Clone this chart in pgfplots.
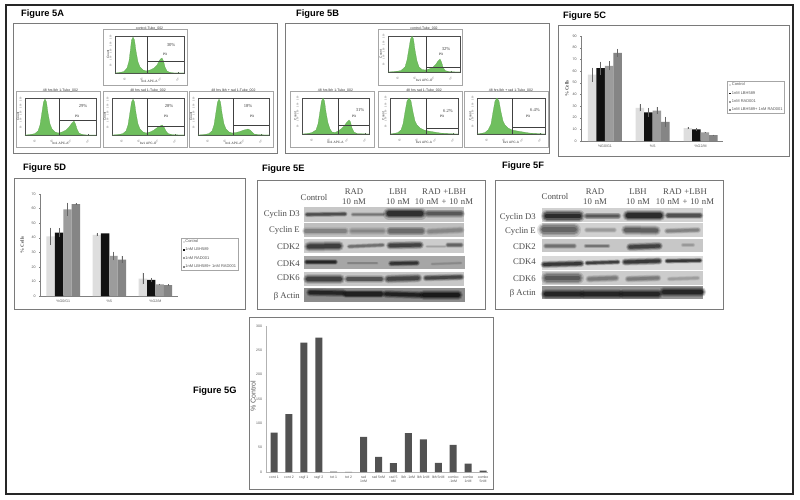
\documentclass[border=0pt]{standalone}
\usepackage{fontspec}
\setmainfont{Liberation Sans}
\newfontfamily\tms{Liberation Serif}
\usepackage{pgfplots}
\pgfplotsset{compat=1.18}
\definecolor{flowgreen}{HTML}{6FBF5E}
\definecolor{framegray}{HTML}{7A7A7A}
\definecolor{barA}{HTML}{DEDEDE}
\definecolor{barB}{HTML}{111111}
\definecolor{barC}{HTML}{9C9C9C}
\definecolor{barD}{HTML}{858585}
\definecolor{txtgray}{HTML}{555555}
\newcommand\myfs[1]{\fontsize{#1}{#1}\selectfont}
\newcommand\myT[4]{\node[inner sep=0pt,align=center,#3] at (#1pt,-#2pt) {#4};}
\newcommand\myF[3]{\node[anchor=west,inner sep=0pt,font=\myfs{9.3}\bfseries] at (#1pt,-#2pt) {Figure #3};}
\newcommand\myPnl[4]{\draw[framegray,line width=0.9pt] (#1pt,-#2pt) rectangle (#3pt,-#4pt);}
\newcommand\mySub[2]{\draw[gray!70,line width=0.5pt] (#1pt,-#2pt) rectangle ++(84pt,-56pt);}
% flow histogram: x, y bottom, w, h, title, gate x, gate h, curve
\newcommand\myFlow[8]{%
\begin{axis}[at={(#1pt,-#2pt)},anchor=south west,scale only axis,width=#3pt,height=#4pt,
 xmin=0,xmax=#3,ymin=0,ymax=#4,clip=false,
 axis line style={line width=0.3pt,black!70},
 tick style={line width=0.25pt,black!70},major tick length=1.2pt,
 xtick={10,27,45,63},xticklabels={10²,10³,10⁴,10⁵},
 ytick={7,14,21,28,35},yticklabels={50,100,150,200,250},
 xtick pos=bottom,ytick pos=left,
 tick label style={font=\myfs{2.2},black!70},
 yticklabel style={rotate=90,xshift=0.8pt},xticklabel style={rotate=45,yshift=0.6pt},
 title={#5},title style={at={(0.5,1.05)},anchor=center,font=\myfs{3.5},black!80},
 xlabel={bv1 APC-A},xlabel style={at={(0.5,-0.22)},anchor=center,font=\myfs{3.2},black!80},
 ylabel={Count},ylabel style={at={(-0.1,0.5)},anchor=center,rotate=0,font=\myfs{3.2},black!80}]
\addplot[draw=flowgreen!85!black,line width=0.2pt,fill=flowgreen] coordinates {#8} --cycle;
\addplot[black!75,line width=0.35pt] coordinates {(#6,0)(#6,#4)};
\addplot[black!75,line width=0.35pt] coordinates {(#6,#7)(#3,#7)};
\end{axis}}
% blot helpers (image pixel coordinates)
\newcommand\mystrip[5]{\addplot[draw=none,fill=#5] coordinates {(#1,#3)(#2,#3)(#2,#4)(#1,#4)} --cycle;}
\newcommand\myband[6]{%
\addplot[line cap=round,line width=2.0*#5 pt,black!#6,opacity=0.18] coordinates {(#1,#3)(#2,#4)};
\addplot[line cap=round,line width=1.6*#5 pt,black!#6,opacity=0.28] coordinates {(#1,#3)(#2,#4)};
\addplot[line cap=round,line width=1.2*#5 pt,black!#6,opacity=0.4] coordinates {(#1,#3)(#2,#4)};
\addplot[line cap=round,line width=0.8*#5 pt,black!#6,opacity=0.7] coordinates {(#1,#3)(#2,#4)};}
\pgfplotsset{barstyle/.style={scale only axis,anchor=south west,
 ybar=0pt,xtick=data,xticklabels={\%G0/G1,\%S,\%G2/M},
 axis lines=left,axis line style={-,line width=0.4pt,gray},
 tick style={line width=0.3pt,gray},major tick length=1.5pt,
 tick label style={font=\myfs{3.6},txtgray},
 /pgf/number format/assume math mode=true,
 ylabel={\% Cells},
 legend cell align=left,
 legend image code/.code={\fill[##1,draw=none] (0pt,-0.9pt) rectangle (2.2pt,0.9pt);},
 },
 barerr/.style={error bars/.cd,y dir=both,y explicit,error mark=none,
 error bar style={line width=0.45pt,black!60}}}
\begin{document}
\begin{tikzpicture}
\path[use as bounding box,fill=white] (0pt,0pt) rectangle (800pt,-500pt);
\draw[black!85,line width=1.1pt] (6pt,-5pt) rectangle (793pt,-494pt);
\myPnl{13}{23}{277}{153}
\myPnl{285}{23}{549}{153}
\myPnl{558}{25}{789}{156}
\myPnl{14}{178}{245}{309}
\myPnl{257}{180}{485}{309}
\myPnl{495}{180}{723}{309}
\myPnl{249}{317}{493}{489}
\myF{21}{14}{5A}
\myF{296}{14}{5B}
\myF{563}{16}{5C}
\myF{23}{168}{5D}
\myF{262}{169}{5E}
\myF{502}{166}{5F}
\myF{193}{391}{5G}
% Panel A
\mySub{103}{29}\mySub{16}{91}\mySub{103}{91}\mySub{189}{91}
\myFlow{115}{73}{69}{37}{control-Tube\_002}{32}{12}{(0,0)(5,.5)(9,1.5)(12,5)(14,12)(15.5,24)(16.5,33)(18,36)(19.5,33)(21,22)(23,11)(25,6)(28,3)(31,2)(35,3)(39,5)(42,8)(44,12)(45.5,14)(47,15)(48.5,12)(50,6)(52,2)(55,.5)(60,0)(69,0)}
\myFlow{25}{135}{71}{37}{48 hrs lbh 1-Tube\_002}{34}{15}{(0,0)(6,.5)(10,1.5)(13,4)(15,10)(17,23)(18.5,33)(20,36)(21.5,33)(23,22)(25,11)(27,6)(30,3)(33,2)(37,3)(41,5)(44,8)(47,12)(49,14)(50.5,11)(52,6)(54,2)(57,.5)(62,0)(71,0)}
\myFlow{112}{135}{72}{37}{48 hrs rad 1-Tube\_002}{35}{9}{(0,0)(7,.5)(11,1.5)(14,4)(16,10)(18,23)(19.5,33)(21,36)(22.5,33)(24,22)(26,11)(28,6)(31,3)(34,2)(38,3)(42,5)(46,8)(50,10)(52,8)(54,4)(56,1.5)(60,.3)(72,0)}
\myFlow{198}{135}{71}{37}{48 hrs lbh + rad 1-Tube\_002}{35}{10}{(0,0)(7,.5)(11,1.5)(14,4)(16,10)(18,23)(19.5,33)(21,36)(22.5,33)(24,22)(26,11)(28,6)(31,3)(34,2)(38,2.5)(42,3.5)(46,5)(50,6)(52,5)(54,3)(56,1)(60,.3)(71,0)}
% Panel B
\mySub{378}{29}\mySub{290}{91}\mySub{378}{91}\mySub{464}{91}
\myFlow{388}{72}{72}{36}{control-Tube\_002}{38}{5}{(0,0)(8,.5)(13,1.5)(17,5)(19,12)(21,24)(22.5,33)(24,36)(25.5,33)(27,22)(29,11)(31,5)(34,2.5)(37,2)(41,3)(45,5)(48,8)(50,11)(52,13)(53.5,10)(55,5)(57,1.5)(61,.3)(72,0)}
\myFlow{302}{134}{67}{36}{48 hrs lbh 1-Tube\_002}{36}{9}{(0,0)(6,.5)(10,1.5)(14,4)(16,10)(18,23)(19.5,33)(21,36)(22.5,33)(24,22)(26,11)(28,5)(30,2)(33,1.5)(36,3)(39,5)(42,8)(45,12)(47,14)(48.5,12)(50,6)(52,2)(55,.4)(67,0)}
\myFlow{390}{134}{68}{36}{48 hrs rad 1-Tube\_002}{36}{6}{(0,0)(4,.5)(8,1.5)(11,4)(13,10)(15,22)(17,33)(19,36)(21,33)(23,22)(25,13)(27,9)(30,6)(34,4)(38,3)(44,2)(50,1)(58,.4)(68,0)}
\myFlow{477}{134}{68}{36}{48 hrs lbh + rad 1-Tube\_002}{35}{7}{(0,0)(4,.5)(8,1.5)(11,4)(14,10)(16,22)(18,33)(20,36)(22,33)(24,22)(26,13)(28,9)(31,6)(35,4)(40,3)(46,2)(52,1)(60,.4)(68,0)}
% Flow percentages
\myT{171}{45}{font=\tms\myfs{4.6},black!75}{30\%}\myT{165}{54}{font=\myfs{3.2}}{P3}
\myT{83}{106}{font=\tms\myfs{4.6},black!75}{29\%}\myT{77}{116}{font=\myfs{3.2}}{P3}
\myT{169}{106}{font=\tms\myfs{4.6},black!75}{28\%}\myT{166}{116}{font=\myfs{3.2}}{P3}
\myT{248}{106}{font=\tms\myfs{4.6},black!75}{18\%}\myT{252}{116}{font=\myfs{3.2}}{P3}
\myT{446}{49}{font=\tms\myfs{4.6},black!75}{32\%}\myT{441}{54}{font=\myfs{3.2}}{P3}
\myT{360}{110}{font=\tms\myfs{4.6},black!75}{31\%}\myT{354}{116}{font=\myfs{3.2}}{P3}
\myT{448}{111}{font=\tms\myfs{4.6},black!75}{6.2\%}\myT{442}{116}{font=\myfs{3.2}}{P3}
\myT{535}{110}{font=\tms\myfs{4.6},black!75}{6.4\%}\myT{528}{116}{font=\myfs{3.2}}{P3}
% Panel C
\begin{axis}[barstyle,at={(581pt,-141pt)},width=142pt,height=105pt,
 xmin=-0.5,xmax=2.47,ymin=0,ymax=90,ytick={0,10,...,90},bar width=8.5pt,
 every axis y label/.style={at={(-0.1,0.5)},rotate=90,anchor=center,font=\tms\bfseries\myfs{5},txtgray},
 legend style={at={(1.03,0.414)},anchor=west,font=\myfs{4},text=txtgray,draw=gray!70,
  line width=0.6pt,inner xsep=1.5pt,inner ysep=1pt,row sep=2.8pt,nodes={inner sep=0.6pt}}]
\addplot[fill=barA,draw=none,barerr] coordinates {(0,57)+-(0,6)(1,28.5)+-(0,3)(2,11)+-(0,1)};
\addplot[fill=barB,draw=none,barerr] coordinates {(0,62.5)+-(0,5.5)(1,24.5)+-(0,4)(2,10)+-(0,1)};
\addplot[fill=barC,draw=none,barerr] coordinates {(0,64.5)+-(0,4)(1,26)+-(0,3)(2,7.5)+-(0,0.5)};
\addplot[fill=barD,draw=none,barerr] coordinates {(0,75.5)+-(0,3.5)(1,16.5)+-(0,4.5)(2,5)+-(0,0.5)};
\legend{Control,1nM LBH589,1nM RAD001,1nM LBH589+ 1nM RAD001}
\end{axis}
% Panel D
\begin{axis}[barstyle,at={(40pt,-296pt)},width=138pt,height=102pt,
 xmin=-0.505,xmax=2.49,ymin=0,ymax=70,ytick={0,10,...,70},bar width=8.4pt,
 every axis y label/.style={at={(-0.13,0.5)},rotate=90,anchor=center,font=\tms\bfseries\myfs{5},txtgray},
 legend style={at={(1.02,0.41)},anchor=west,font=\myfs{4},text=txtgray,draw=gray!70,
  line width=0.6pt,inner xsep=1.5pt,inner ysep=1pt,row sep=2.8pt,nodes={inner sep=0.6pt}}]
\addplot[fill=barA,draw=none,barerr] coordinates {(0,41)+-(0,6)(1,42)+-(0,1)(2,12)+-(0,4)};
\addplot[fill=barB,draw=none,barerr] coordinates {(0,43.5)+-(0,3)(1,43)+-(0,0)(2,11)+-(0,1.5)};
\addplot[fill=barC,draw=none,barerr] coordinates {(0,59.5)+-(0,4.5)(1,27.5)+-(0,3)(2,8)+-(0,0.5)};
\addplot[fill=barD,draw=none,barerr] coordinates {(0,63)+-(0,0.5)(1,25)+-(0,2.5)(2,7.5)+-(0,0.5)};
\legend{Control,1nM LBH589,1nM RAD001,1nM LBH589+ 1nM RAD001}
\end{axis}
% Panel G
\begin{axis}[scale only axis,anchor=south west,at={(266pt,-472pt)},width=222pt,height=146pt,
 ybar,bar width=7pt,xmin=-0.536,xmax=14.33,ymin=0,ymax=300,ytick={0,50,...,300},
 xtick=data,xticklabels={cont 1,cont 2,ragf 1,ragf 2,tot 1,tot 2,{rad\\1nM},rad 5nM,{rad 5\\nM},lbh .1nM,lbh 1nM,lbh 5nM,{combo\\.1nM},{combo\\1nM},{combo\\5nM}},
 axis lines=left,axis line style={-,line width=0.3pt,gray!60},
 tick style={line width=0.2pt,gray!60},major tick length=1pt,
 tick label style={font=\myfs{3.5},txtgray},
 xticklabel style={align=center},
 /pgf/number format/assume math mode=true,
 ylabel={\% Control},
 every axis y label/.style={at={(-0.058,0.52)},rotate=90,anchor=center,font=\myfs{7},black!65}]
\addplot[fill=black!68,draw=none] coordinates {(0,81)(1,119)(2,266)(3,276)(4,1)(5,0.5)(6,72)(7,31)(8,18)(9,80)(10,67)(11,19)(12,56)(13,17)(14,3)};
\end{axis}
% Blots
\begin{axis}[at={(0pt,-500pt)},anchor=south west,scale only axis,width=800pt,height=500pt,
 xmin=0,xmax=800,ymin=0,ymax=500,y dir=reverse,hide axis,clip=false]
% Panel E strips
\mystrip{304}{464}{207}{222}{black!22}
\mystrip{304}{464}{223}{237}{black!25}
\mystrip{304}{464}{239}{253}{black!20}
\mystrip{304}{465}{256}{269}{black!35}
\mystrip{304}{464}{272}{286}{black!22}
\mystrip{304}{465}{288}{302}{black!45}
\myband{307}{345}{214.5}{214}{2.6}{75}\myband{353}{383}{214.5}{214.5}{2.4}{58}\myband{389}{421}{213.5}{213.5}{6}{88}\myband{428}{461}{213.5}{213.5}{4}{70}
\myband{306}{345}{231}{231}{4}{52}\myband{352}{383}{231}{231}{3.6}{50}\myband{390}{422}{231}{231}{4.4}{62}\myband{429}{461}{231.5}{230}{3.6}{50}
\myband{309}{339}{246.5}{246}{5}{82}\myband{349}{383}{246.5}{245}{2.4}{60}\myband{390}{420}{245.5}{245}{4}{80}\myband{427}{445}{246.5}{246.5}{1.6}{38}\myband{448}{461}{245}{245}{2.8}{65}
\myband{307}{335}{262}{262}{3}{90}\myband{348}{377}{263}{263}{1.5}{50}\myband{391}{417}{263.5}{263}{3}{85}\myband{432}{461}{264}{263}{1.5}{48}
\myband{308}{340}{279}{279}{5}{80}\myband{348}{381}{279}{279}{4}{72}\myband{388}{418}{279}{278}{4.4}{78}\myband{426}{461}{278}{277}{3.4}{78}
\myband{310}{343}{292.5}{293}{4}{90}\myband{346}{381}{294}{294}{4.2}{92}\myband{386}{420}{294}{295}{4}{92}\myband{424}{458}{295}{295}{5}{95}
% Panel F strips
\mystrip{542}{703}{208}{222}{black!18}
\mystrip{542}{703}{223}{237}{black!18}
\mystrip{542}{703}{239}{252}{black!22}
\mystrip{542}{703}{256}{270}{black!15}
\mystrip{542}{703}{271}{285}{black!20}
\mystrip{542}{703}{286}{299}{black!42}
\myband{547}{579}{216}{216}{6}{90}\myband{587}{618}{216}{216}{3.4}{70}\myband{628}{660}{215.5}{215.5}{5.6}{90}\myband{668}{700}{215.5}{215.5}{3.4}{75}
\myband{544}{574}{229.5}{229.5}{7}{65}\myband{587}{614}{230}{230}{3}{42}\myband{626}{656}{230}{230.5}{5}{68}\myband{667}{698}{231}{230}{3}{52}
\myband{546}{574}{246}{246}{3}{60}\myband{586}{608}{246}{246}{2.4}{58}\myband{630}{659}{247}{246}{4}{80}\myband{683}{693}{245}{245}{2.2}{42}
\myband{544}{581}{264.5}{263.5}{3.6}{85}\myband{587}{618}{263}{262}{2.6}{82}\myband{625}{659}{262}{261}{3.6}{85}\myband{667}{700}{261}{260.5}{2.6}{85}
\myband{547}{578}{278}{278}{6}{70}\myband{589}{616}{279}{278}{3.6}{55}\myband{628}{658}{279}{278}{3.4}{55}\myband{669}{698}{279}{278}{2.4}{40}
\myband{546}{580}{294}{294}{5.4}{90}\myband{584}{619}{294}{294}{5}{90}\myband{623}{658}{294}{294}{5}{90}\myband{664}{701}{292}{292}{5.2}{90}
\end{axis}
% Blot labels E
\myT{314}{198}{font=\tms\myfs{8.7},black!70}{Control}
\myT{354}{197}{font=\tms\myfs{8.7},black!70,text width=40pt,align=center}{RAD\\[1pt]10 nM}
\myT{398}{197}{font=\tms\myfs{8.7},black!70,text width=40pt,align=center}{LBH\\[1pt]10 nM}
\myT{444}{197}{font=\tms\myfs{8.7},black!70,text width=70pt,align=center}{RAD +LBH\\[1pt]10 nM + 10 nM}
\myT{300}{214}{anchor=east,font=\tms\myfs{8.7},black!70}{Cyclin D3}
\myT{300}{230}{anchor=east,font=\tms\myfs{8.7},black!70}{Cyclin E}
\myT{300}{247}{anchor=east,font=\tms\myfs{8.7},black!70}{CDK2}
\myT{300}{264}{anchor=east,font=\tms\myfs{8.7},black!70}{CDK4}
\myT{300}{278}{anchor=east,font=\tms\myfs{8.7},black!70}{CDK6}
\myT{300}{296}{anchor=east,font=\tms\myfs{8.7},black!70}{β Actin}
% Blot labels F
\myT{555}{197}{font=\tms\myfs{8.7},black!70}{Control}
\myT{595}{197}{font=\tms\myfs{8.7},black!70,text width=40pt,align=center}{RAD\\[1pt]10 nM}
\myT{638}{197}{font=\tms\myfs{8.7},black!70,text width=40pt,align=center}{LBH\\[1pt]10 nM}
\myT{685}{197}{font=\tms\myfs{8.7},black!70,text width=70pt,align=center}{RAD +LBH\\[1pt]10 nM + 10 nM}
\myT{536}{217}{anchor=east,font=\tms\myfs{8.7},black!70}{Cyclin D3}
\myT{536}{231}{anchor=east,font=\tms\myfs{8.7},black!70}{Cyclin E}
\myT{536}{247}{anchor=east,font=\tms\myfs{8.7},black!70}{CDK2}
\myT{536}{262}{anchor=east,font=\tms\myfs{8.7},black!70}{CDK4}
\myT{536}{279}{anchor=east,font=\tms\myfs{8.7},black!70}{CDK6}
\myT{536}{293}{anchor=east,font=\tms\myfs{8.7},black!70}{β Actin}
\end{tikzpicture}
\end{document}
